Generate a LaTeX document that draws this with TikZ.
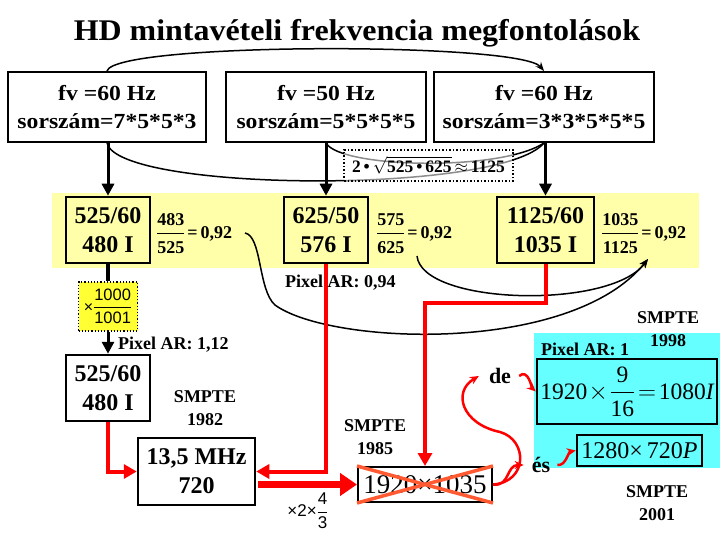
\documentclass[tikz,border=0pt]{standalone}
\usepackage{fontspec}
\setmainfont{Liberation Serif}
\newfontfamily\sansf{Liberation Sans}
\usepackage{amsmath}
\usepackage{graphicx}
\usetikzlibrary{arrows.meta}
\definecolor{bandyellow}{RGB}{255,255,170}
\definecolor{boxyellow}{RGB}{255,255,51}
\definecolor{cyanbg}{RGB}{102,255,255}
\definecolor{crossred}{RGB}{255,90,50}
\newcommand\wl[1]{\scalebox{1.1}[1]{#1}}
\newcommand\frb[2]{{\fontsize{18}{20}\selectfont\bfseries$\dfrac{\text{#1}\rule[-6pt]{0pt}{0pt}}{\rule{0pt}{17pt}\text{#2}}$}\,{\fontsize{18}{20}\selectfont\bfseries=\,0,92}}
\begin{document}
\begin{tikzpicture}[x=1pt,y=-1pt,
  tbox/.style={draw,line width=2pt,inner sep=0pt,align=center,font=\fontsize{21.5}{28}\selectfont\bfseries},
  bbox/.style={draw,line width=2.5pt,inner sep=0pt,align=center,font=\fontsize{24}{29}\selectfont\bfseries},
  lbl/.style={inner sep=0pt,font=\fontsize{18}{20}\selectfont\bfseries},
  smp/.style={inner sep=0pt,align=center,font=\fontsize{18}{23}\selectfont\bfseries},
  redline/.style={draw=red,line width=4pt},
  redtip/.style={-{Triangle[length=13pt,width=14pt]}},
  blackdown/.style={line width=3pt,-{Triangle[length=12pt,width=12pt]}},
  thinarr/.style={line width=1.5pt,-{Stealth[length=9pt,width=7pt]}},
  redcurve/.style={red,line width=2.5pt,-{Stealth[length=9pt,width=8pt]}},
  plain/.style={inner sep=0pt}
]
\useasboundingbox (0,0) rectangle (720,540);
\fill[white] (0,0) rectangle (720,540);
\fill[bandyellow] (52,193) rectangle (699,268);
\fill[cyanbg] (534,333) rectangle (720,468);

% title
\node[plain] (title) at (357,33) {\fontsize{30}{32}\selectfont\bfseries\scalebox{1.065}[1]{HD mintavételi frekvencia megfontolások}};

% top boxes
\node[tbox,minimum width=198pt,minimum height=70pt] (b1) at (107,107) {\wl{fv =60 Hz}\\\wl{sorszám=7*5*5*3}};
\node[tbox,minimum width=200pt,minimum height=70pt] (b2) at (326,107) {\wl{fv =50 Hz}\\\wl{sorszám=5*5*5*5}};
\node[tbox,minimum width=220pt,minimum height=70pt] (b3) at (544,107) {\wl{fv =60 Hz}\\\wl{sorszám=3*3*5*5*5}};

% band boxes
\node[bbox,minimum width=84pt,minimum height=66pt] (c1) at (108,230) {525/60\\480 I};
\node[bbox,minimum width=84pt,minimum height=66pt] (c2) at (326,230) {625/50\\576 I};
\node[bbox,minimum width=97pt,minimum height=66pt] (c3) at (545.5,230) {1125/60\\1035 I};

\node[plain,anchor=base west] (q1) at (156,238) {\frb{483}{525}};
\node[plain,anchor=base west] (q2) at (376,238) {\frb{575}{625}};
\node[plain,anchor=base west] (q3) at (601,238) {\frb{1035}{1125}};

% arcs
\draw[thinarr] (b1.north) .. controls (115,42) and (520,42) .. (b3.north);
\draw[line width=1.5pt] (b1.south) .. controls (118,192) and (500,195) .. (b3.south);
\draw[line width=1.5pt] (b2.south) .. controls (340,168) and (500,172) .. (b3.south);

\node[draw,dotted,line width=1.5pt,fill=white,fill opacity=0.55,text opacity=1,minimum width=169pt,minimum height=31pt,inner sep=0pt] (sq) at (428.5,165.5)
 {\fontsize{17.5}{20}\selectfont\bfseries 2\,•\,$\sqrt{\text{525\,•\,625}}$\,$\approx$\,1125};

\draw[blackdown] (c1.north |- b1.south) -- (c1.north);
\draw[blackdown] (c2.north |- b2.south) -- (c2.north);
\draw[blackdown] (c3.north |- b3.south) -- (c3.north);

% big curves
\draw[thinarr] (245,233) .. controls (262,236) and (258,290) .. (275,305) .. controls (330,345) and (570,355) .. (648,259);
\draw[thinarr] (417,256) .. controls (422,305) and (610,310) .. (648,259);

% left chain
\node[draw,dotted,line width=1.2pt,fill=boxyellow,minimum width=59pt,minimum height=49pt,inner sep=0pt] (yb) at (108,306.5)
 {\sansf\fontsize{16.5}{18}\selectfont{\fontsize{16}{16}\selectfont×}$\dfrac{\text{1000}}{\text{1001}}$};
\draw[line width=4pt] (c1.south) -- (yb.north);
\node[bbox,minimum width=84pt,minimum height=66pt] (d1) at (108,388) {525/60\\480 I};
\draw[blackdown] (yb.south) -- (d1.north);

\node[lbl,anchor=west] (par1) at (118,345) {Pixel AR: 1,12};

\node[bbox,minimum width=117pt,minimum height=67pt,font=\fontsize{24}{29}\selectfont\bfseries] (e1) at (196.5,471.5) {13,5 MHz\\720};
\node[smp] (s82) at (205,408) {SMPTE\\1982};

\node[draw,line width=2pt,fill=white,minimum width=134pt,minimum height=35pt,inner sep=0pt,font=\fontsize{27}{28}\selectfont] (f1) at (425,484.5) {1920×1035};
\draw[crossred,line width=3.5pt] (f1.north west) -- (f1.south east);
\draw[crossred,line width=3.5pt] (f1.south west) -- (f1.north east);
\node[smp] (s85) at (375,437) {SMPTE\\1985};

% red connections
\draw[redline,redtip] (d1.south) |- (e1.west);
\draw[redline,redtip] (c2.south) |- (e1.east);
\draw[redline,redtip] (c3.south) -- ++(0,39) -| (f1.north);
\draw[red,line width=7pt,-{Triangle[length=17pt,width=22pt]}] ([xshift=2pt,yshift=-13pt]e1.east) -- (f1.west);
\node[plain] (mul) at (308,511) {\sansf\fontsize{17}{18}\selectfont ×2×$\dfrac{\text{4}}{\text{3}}$};

\node[lbl,anchor=west] (par2) at (285,283) {Pixel AR: 0,94};

% right part
\node[lbl,anchor=west] (par3) at (541,349) {Pixel AR: 1};
\node[smp] (s98) at (668,329) {SMPTE\\1998};
\node[draw,line width=2.5pt,minimum width=180pt,minimum height=65pt,inner sep=0pt,font=\fontsize{23.5}{28}\selectfont] (g1) at (627,391.5) {$\text{1920}\mkern1mu{\times}\mkern1mu\dfrac{\text{9}}{\text{16}}\mkern2mu{=}\mkern2mu\text{1080}\textit{I}$};
\node[draw,line width=2.5pt,minimum width=125pt,minimum height=31pt,inner sep=0pt,font=\fontsize{24}{28}\selectfont] (g2) at (639.5,450.5) {1280×\,720\textit{P}};
\node[smp] (s01) at (657,503) {SMPTE\\2001};

\node[plain,font=\fontsize{22}{24}\selectfont\bfseries] (de) at (500,376) {de};
\node[plain,font=\fontsize{22}{24}\selectfont\bfseries] (es) at (541,465) {és};

\draw[redcurve] ([xshift=8pt]de.east) .. controls (528,368) and (532,388) .. (g1.west);
\draw[redcurve] ([xshift=7pt]es.east) .. controls (566,466) and (568,452) .. (g2.west);
\draw[redcurve] (f1.east) .. controls (510,487) and (506,465) .. ([xshift=-8pt]es.west);
\draw[redcurve] (f1.east) .. controls (528,482) and (528,440) .. (500,432) .. controls (462,424) and (452,392) .. ([xshift=-10pt]de.west);
\end{tikzpicture}
\end{document}
